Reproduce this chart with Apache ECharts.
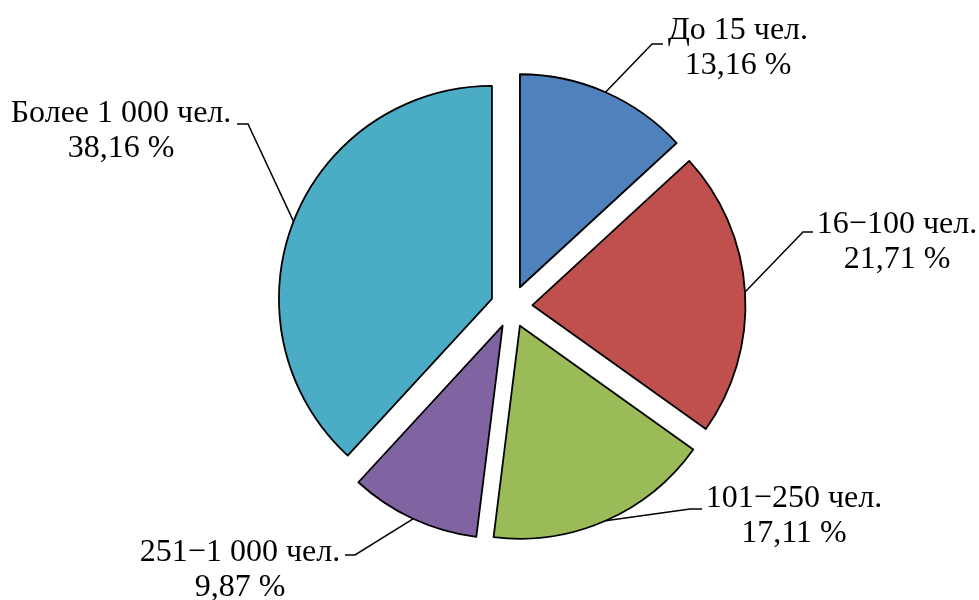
<!DOCTYPE html>
<html><head><meta charset="utf-8">
<script src="https://cdn.jsdelivr.net/npm/echarts@6/dist/echarts.min.js"></script>
<style>html,body{margin:0;padding:0;background:#fff}#c{width:979px;height:600px}</style>
</head><body><div id="c"></div>
<script>
const categories = ['До 15 чел.', '16−100 чел.', '101−250 чел.', '251−1 000 чел.', 'Более 1 000 чел.'];
const values = [13.16, 21.71, 17.11, 9.87, 38.16];
const colors = ['#4F81BD', '#C0504D', '#9BBB59', '#8064A2', '#4BACC6'];

// layout constants (not data)
const CENTER = [511.5, 306.5];
const RADIUS = 213;
const EXPLODE = 21;
const labelPlace = [
  {x: 738, y: 48, bend: [652, 44], end: [663, 44]},
  {x: 897, y: 242, bend: [803, 232], end: [813, 232]},
  {x: 794, y: 516, bend: [690, 509], end: [702, 509]},
  {x: 240, y: 570, bend: [355, 555], end: [345, 555]},
  {x: 121, y: 131, bend: [248, 124], end: [237, 124]}
];

const fmt = v => v.toFixed(2).replace('.', ',') + ' %';

const chart = echarts.init(document.getElementById('c'), null, {renderer: 'canvas'});
chart.setOption({
  animation: false,
  backgroundColor: '#ffffff',
  series: [{
    type: 'pie',
    center: CENTER,
    radius: RADIUS,
    startAngle: 90,
    clockwise: true,
    selectedMode: 'multiple',
    selectedOffset: EXPLODE,
    itemStyle: {borderColor: '#000', borderWidth: 1.8},
    emphasis: {disabled: true},
    label: {show: false},
    labelLine: {show: false},
    data: categories.map((c, i) => ({
      name: c, value: values[i], selected: true,
      itemStyle: {color: colors[i]}
    }))
  }, {
    type: 'pie',
    silent: true,
    center: CENTER,
    radius: RADIUS,
    startAngle: 90,
    clockwise: true,
    avoidLabelOverlap: false,
    itemStyle: {color: 'rgba(0,0,0,0)', borderWidth: 0},
    emphasis: {disabled: true},
    label: {
      show: true,
      position: 'outside',
      color: '#000',
      fontFamily: 'Liberation Serif',
      fontSize: 32,
      lineHeight: 35,
      formatter: p => p.name + '\n' + fmt(p.value)
    },
    labelLine: {show: true, lineStyle: {color: '#000', width: 1.5}},
    labelLayout: function (params) {
      const lp = labelPlace[params.dataIndex];
      let start = lp.bend;
      if (params.labelLinePoints) {
        const s = params.labelLinePoints[0];
        const k = (RADIUS + EXPLODE) / RADIUS;
        start = [CENTER[0] + (s[0] - CENTER[0]) * k, CENTER[1] + (s[1] - CENTER[1]) * k];
      }
      return {
        x: lp.x, y: lp.y, align: 'center', verticalAlign: 'middle',
        labelLinePoints: [start, lp.bend, lp.end]
      };
    },
    data: categories.map((c, i) => ({name: c, value: values[i]}))
  }]
});
</script>
</body></html>
